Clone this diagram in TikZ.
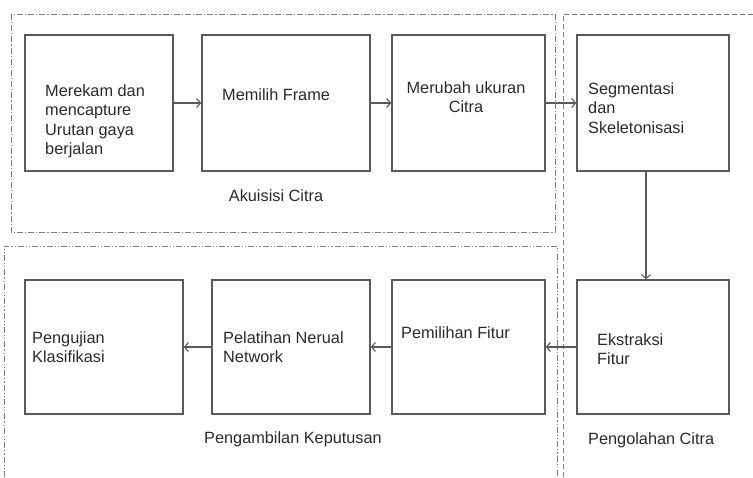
\documentclass[tikz,border=0pt]{standalone}
\usepackage{fontspec}
\setmainfont{Liberation Sans}
\usetikzlibrary{arrows.meta}
\definecolor{boxline}{HTML}{5A5A5A}
\definecolor{regionline}{HTML}{7A7A7A}
\definecolor{txt}{HTML}{2A2A2A}
\begin{document}
\begin{tikzpicture}[x=1pt,y=-1pt,
  stepbox/.style={draw=boxline,line width=1.4pt,inner sep=0pt},
  lbl/.style={text=txt,inner sep=0pt,font=\fontsize{16.3}{19.5}\selectfont},
  flow/.style={draw=boxline,line width=1.1pt,-{Straight Barb[length=4pt,width=9pt]}},
  acq/.style={draw=regionline,line width=1pt,dash pattern=on 6pt off 2pt on 1.2pt off 2pt},
  dec/.style={draw=regionline,line width=1pt,dash pattern=on 6pt off 2pt on 1.2pt off 2pt on 1.2pt off 2pt},
  proc/.style={draw=regionline,line width=1pt,dash pattern=on 5pt off 3pt}]
\useasboundingbox (0,0) rectangle (753,477);

% stage regions
\draw[acq] (11,14) rectangle (555,232);
\draw[dec] (4,477) -- (4,246) -- (557,246) -- (557,477);
\draw[proc] (563,477) -- (563,14) -- (753,14);

% process boxes (top row)
\node[stepbox,minimum width=148pt,minimum height=136pt] (b1) at (99,103) {};
\node[stepbox,minimum width=168pt,minimum height=136pt] (b2) at (286,103) {};
\node[stepbox,minimum width=153pt,minimum height=136pt] (b3) at (468.5,103) {};
\node[stepbox,minimum width=152pt,minimum height=136pt] (b4) at (653,103) {};
% process boxes (bottom row)
\node[stepbox,minimum width=152pt,minimum height=134pt] (b5) at (653,347) {};
\node[stepbox,minimum width=153pt,minimum height=134pt] (b6) at (468.5,347) {};
\node[stepbox,minimum width=158pt,minimum height=134pt] (b7) at (291,347) {};
\node[stepbox,minimum width=158pt,minimum height=134pt] (b8) at (104,347) {};

% box texts (anchored on the baseline of their last line)
\node[lbl,anchor=base west,align=left] (t1) at (45,154.5) {Merekam dan\\mencapture\\Urutan gaya\\berjalan};
\node[lbl,anchor=base west,align=left] (t2) at (222,100) {Memilih Frame};
\node[lbl,anchor=base,align=center] (t3) at (466,112.5) {Merubah ukuran\\Citra};
\node[lbl,anchor=base west,align=left] (t4) at (588,133) {Segmentasi\\dan\\Skeletonisasi};
\node[lbl,anchor=base west,align=left] (t5) at (597,364.5) {Ekstraksi\\Fitur};
\node[lbl,anchor=base west,align=left] (t6) at (401,338) {Pemilihan Fitur};
\node[lbl,anchor=base west,align=left] (t7) at (223,362.5) {Pelatihan Nerual\\Network};
\node[lbl,anchor=base west,align=left] (t8) at (32,362.5) {Pengujian\\Klasifikasi};

% region captions
\node[lbl,anchor=base] (c1) at (276,201) {Akuisisi Citra};
\node[lbl,anchor=base west] (c2) at (204,443) {Pengambilan Keputusan};
\node[lbl,anchor=base west] (c3) at (588,444) {Pengolahan Citra};

% flow arrows
\draw[flow] (b1) -- (b2);
\draw[flow] (b2) -- (b3);
\draw[flow] (b3) -- (b4);
\draw[flow] ([xshift=-7pt]b4.south) -- ([xshift=-7pt]b5.north);
\draw[flow] (b5) -- (b6);
\draw[flow] (b6) -- (b7);
\draw[flow] (b7) -- (b8);
\end{tikzpicture}
\end{document}
